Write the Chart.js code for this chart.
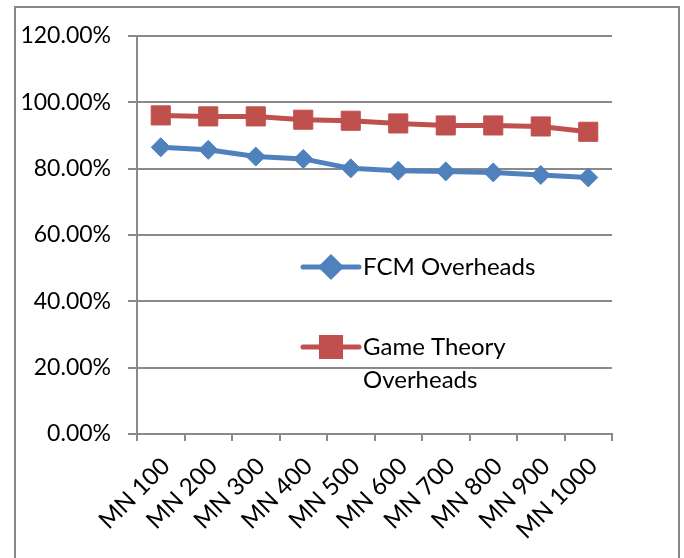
<!DOCTYPE html>
<html>
<head>
<meta charset="utf-8">
<script src="https://cdn.jsdelivr.net/npm/chart.js@4"></script>
<style>
  html, body { margin: 0; padding: 0; background: #fff; }
  #wrap { position: relative; width: 684px; height: 558px; overflow: hidden; }
  #frame { position: absolute; left: 14px; top: 6px; width: 666px; height: 600px;
           border: 2px solid #878787; box-sizing: border-box; }
  canvas { position: absolute; left: 0; top: 0; }
</style>
</head>
<body>
<div id="wrap">
  <div id="frame"></div>
  <canvas id="c" width="684" height="558"></canvas>
</div>
<script>
const categories = ['MN 100', 'MN 200', 'MN 300', 'MN 400', 'MN 500',
                    'MN 600', 'MN 700', 'MN 800', 'MN 900', 'MN 1000'];
const fcmOverheads = [0.8645, 0.8567, 0.8364, 0.8294, 0.8009,
                      0.7939, 0.7918, 0.7888, 0.7809, 0.7736];
const gameTheoryOverheads = [0.9606, 0.9576, 0.9576, 0.9476, 0.9445,
                             0.9364, 0.9303, 0.9303, 0.9273, 0.9112];
const yTicks = [0, 0.2, 0.4, 0.6, 0.8, 1.0, 1.2];

const FONT = 'Lato, "Open Sans", sans-serif';
const GRID = '#8a8a8a';
const BLUE = '#4F81BD';
const RED = '#C0504D';

// Legend drawn inside the plot area, with no background box
const innerLegend = {
  id: 'innerLegend',
  afterDraw(chart) {
    const ctx = chart.ctx;
    const entries = [
      { ds: chart.data.datasets[0], y: 267, lines: ['FCM Overheads'] },
      { ds: chart.data.datasets[1], y: 347, lines: ['Game Theory', 'Overheads'] }
    ];
    const x0 = 303, x1 = 359, tx = 363;
    ctx.save();
    entries.forEach(e => {
      ctx.strokeStyle = e.ds.borderColor;
      ctx.lineWidth = e.ds.borderWidth;
      ctx.lineCap = 'round';
      ctx.beginPath();
      ctx.moveTo(x0, e.y);
      ctx.lineTo(x1, e.y);
      ctx.stroke();
      Chart.helpers.drawPoint(ctx, {
        pointStyle: e.ds.pointStyle,
        radius: e.ds.pointRadius,
        borderWidth: 1
      }, (x0 + x1) / 2, e.y);
      ctx.fillStyle = e.ds.pointBackgroundColor;
      ctx.fill();
      ctx.fillStyle = '#000';
      ctx.font = '24px ' + FONT;
      ctx.textAlign = 'left';
      ctx.textBaseline = 'middle';
      e.lines.forEach((t, i) => ctx.fillText(t, tx, e.y + i * 33));
    });
    ctx.restore();
  }
};

new Chart(document.getElementById('c'), {
  type: 'line',
  data: {
    labels: categories,
    datasets: [
      {
        label: 'FCM Overheads',
        data: fcmOverheads,
        borderColor: BLUE,
        backgroundColor: BLUE,
        pointBackgroundColor: BLUE,
        pointBorderColor: BLUE,
        borderWidth: 5,
        pointStyle: 'rectRot',
        pointRadius: 9.5,
        pointBorderWidth: 1,
        tension: 0
      },
      {
        label: 'Game Theory Overheads',
        data: gameTheoryOverheads,
        borderColor: RED,
        backgroundColor: RED,
        pointBackgroundColor: RED,
        pointBorderColor: RED,
        borderWidth: 5,
        pointStyle: 'rect',
        pointRadius: 13.5,
        pointBorderWidth: 1,
        tension: 0
      }
    ]
  },
  options: {
    responsive: false,
    animation: false,
    layout: { padding: { left: 0, top: 36, right: 72, bottom: 0 } },
    plugins: { legend: { display: false }, tooltip: { enabled: false } },
    scales: {
      x: {
        offset: true,
        grid: {
          offset: true,
          drawOnChartArea: false,
          drawTicks: true,
          tickLength: 7,
          color: GRID,
          lineWidth: 2
        },
        border: { color: GRID, width: 2 },
        ticks: {
          autoSkip: false,
          maxRotation: 45,
          minRotation: 45,
          padding: 11,
          labelOffset: 5,
          color: '#000',
          font: { family: FONT, size: 24 }
        },
        afterFit(scale) { scale.height = 124; }
      },
      y: {
        min: 0,
        max: 1.2,
        afterBuildTicks(scale) { scale.ticks = yTicks.map(v => ({ value: v })); },
        grid: {
          color: GRID,
          lineWidth: 2,
          tickLength: 9
        },
        border: { color: GRID, width: 2 },
        ticks: {
          padding: 17,
          color: '#000',
          font: { family: FONT, size: 23 },
          callback: v => (v * 100).toFixed(2) + '%'
        },
        afterFit(scale) { scale.width = 137; }
      }
    }
  },
  plugins: [innerLegend]
});
</script>
</body>
</html>
